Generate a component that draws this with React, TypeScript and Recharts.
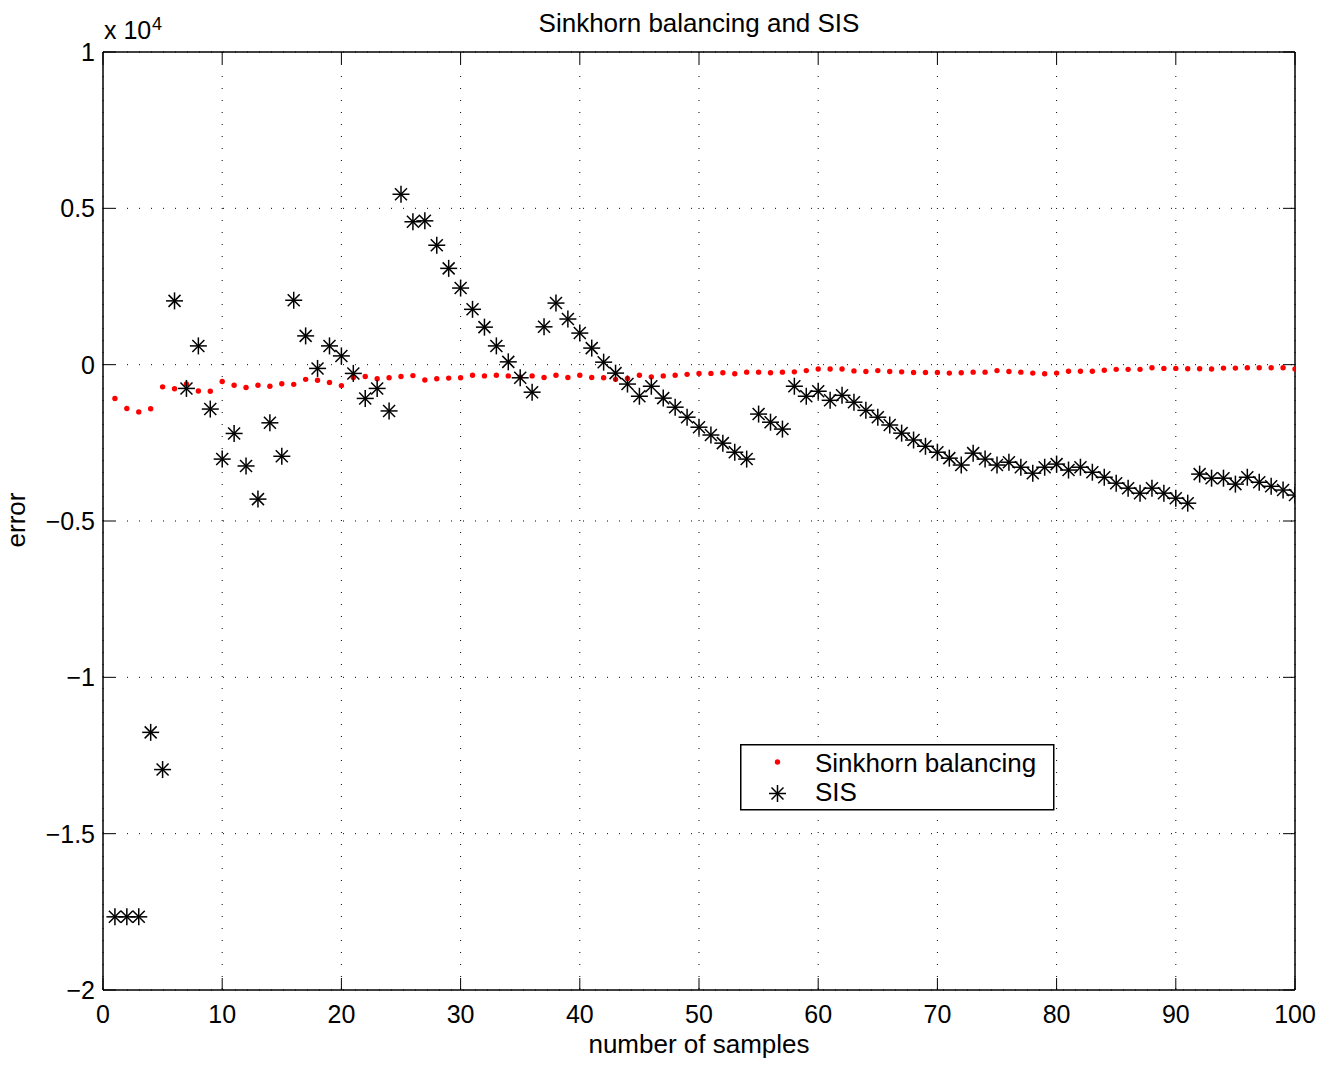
import { CartesianGrid, Legend, Scatter, ScatterChart, XAxis, YAxis } from "recharts";

const FONT = '"Liberation Sans", Arial, Helvetica, sans-serif';

// number of samples (x)
const samples = Array.from({ length: 100 }, (_, i) => i + 1);

// error values
const sinkhornErr = [
  -1080, -1400, -1510, -1410, -710, -770, -620, -840, -850, -540,
  -660, -730, -660, -690, -610, -630, -470, -500, -570, -670,
  -410, -380, -450, -420, -380, -350, -490, -450, -430, -420,
  -340, -360, -340, -360, -390, -360, -410, -340, -410, -340,
  -410, -420, -470, -440, -340, -390, -360, -340, -310, -280,
  -280, -260, -290, -240, -240, -260, -240, -230, -190, -140,
  -140, -140, -200, -220, -190, -220, -230, -250, -250, -250,
  -270, -260, -240, -240, -190, -220, -240, -270, -290, -270,
  -210, -210, -210, -180, -150, -150, -150, -100, -120, -120,
  -130, -130, -140, -110, -110, -100, -100, -100, -100, -140,
];

const sisErr = [
  -17660, -17660, -17660, -11760, -12950, 2040, -760, 600, -1420, -3020,
  -2200, -3240, -4300, -1860, -2930, 2060, 920, -120, 600, 280,
  -280, -1080, -760, -1480, 5450, 4570, 4600, 3820, 3080, 2450,
  1770, 1200, 600, 90, -420, -880, 1210, 1970, 1460, 1010,
  530, 80, -270, -620, -1010, -690, -1070, -1360, -1680, -2000,
  -2250, -2510, -2800, -3020, -1580, -1840, -2060, -690, -1010, -850,
  -1140, -980, -1200, -1460, -1680, -1930, -2190, -2410, -2610, -2800,
  -2990, -3210, -2830, -3020, -3210, -3120, -3280, -3470, -3280, -3180,
  -3370, -3280, -3440, -3600, -3790, -3950, -4110, -3950, -4110, -4270,
  -4430, -3500, -3630, -3630, -3820, -3600, -3760, -3890, -4010, -4170,
];

const xTicks = [0, 10, 20, 30, 40, 50, 60, 70, 80, 90, 100];
const yTicks = [-20000, -15000, -10000, -5000, 0, 5000, 10000];

const sinkhornData = samples.map((x, i) => ({ x, y: sinkhornErr[i] }));
const sisData = samples.map((x, i) => ({ x, y: sisErr[i] }));

const fmtY = (v: number) => {
  const s = String(Math.abs(v) / 10000);
  return v < 0 ? "\u2212" + s : s;
};

const RedDot = (props: any) => <circle cx={props.cx} cy={props.cy} r={2.7} fill="#ff0000" />;

const Star = (props: any) => {
  const { cx, cy } = props;
  return (
    <g stroke="#000" strokeWidth={1.5}>
      <line x1={cx - 8.5} y1={cy} x2={cx + 8.5} y2={cy} />
      <line x1={cx} y1={cy - 8.5} x2={cx} y2={cy + 8.5} />
      <line x1={cx - 6} y1={cy - 6} x2={cx + 6} y2={cy + 6} />
      <line x1={cx - 6} y1={cy + 6} x2={cx + 6} y2={cy - 6} />
    </g>
  );
};

const LegendBox = () => (
  <svg width={315} height={67} style={{ display: "block", fontFamily: FONT }}>
    <rect x={0.75} y={0.75} width={313} height={65} fill="#fff" stroke="#000" strokeWidth={1.5} />
    <RedDot cx={37.5} cy={18} />
    <text x={75} y={27.5} fontSize={26} fill="#000">Sinkhorn balancing</text>
    <Star cx={37.5} cy={49.5} />
    <text x={75} y={57} fontSize={26} fill="#000">SIS</text>
  </svg>
);

const tickStyle = { fill: "#000", fontSize: 25, fontFamily: FONT };
const frame = { stroke: "#000", strokeWidth: 1.5 };
const tickLn = { stroke: "#000", strokeWidth: 1 };

export default function App() {
  return (
    <div style={{ position: "absolute", left: 0, top: 0, width: 1333, height: 1066, background: "#fff" }}>
      <ScatterChart width={1333} height={1066} margin={{ top: 51, right: 37, left: 0, bottom: 0 }}>
        <CartesianGrid xAxisId="b" yAxisId="l" stroke="#000" strokeWidth={1} strokeDasharray="1 11" />
        <XAxis
          xAxisId="b" dataKey="x" type="number" domain={[0, 100]} ticks={xTicks} allowDataOverflow
          orientation="bottom" height={76} tickSize={-12} tickMargin={27}
          axisLine={frame} tickLine={tickLn} tick={tickStyle}
        />
        <XAxis
          xAxisId="t" dataKey="x" type="number" domain={[0, 100]} ticks={xTicks} allowDataOverflow
          orientation="top" height={1} tickSize={-12} tickFormatter={() => ""}
          axisLine={frame} tickLine={tickLn}
        />
        <YAxis
          yAxisId="l" dataKey="y" type="number" domain={[-20000, 10000]} ticks={yTicks} allowDataOverflow
          orientation="left" width={103} tickSize={-12} tickMargin={20} tickFormatter={fmtY}
          axisLine={frame} tickLine={tickLn} tick={tickStyle}
        />
        <YAxis
          yAxisId="r" dataKey="y" type="number" domain={[-20000, 10000]} ticks={yTicks} allowDataOverflow
          orientation="right" width={1} tickSize={-12} tickFormatter={() => ""}
          axisLine={frame} tickLine={tickLn}
        />
        <Scatter xAxisId="t" yAxisId="r" data={sinkhornData} shape={() => null} legendType="none" isAnimationActive={false} />
        <Scatter xAxisId="b" yAxisId="l" name="Sinkhorn balancing" data={sinkhornData} shape={RedDot} isAnimationActive={false} />
        <Scatter xAxisId="b" yAxisId="l" name="SIS" data={sisData} shape={Star} isAnimationActive={false} />
        <Legend
          layout="horizontal" verticalAlign="middle" align="center" content={LegendBox}
          wrapperStyle={{ left: 740, top: 744, width: 315, height: 67 }}
        />
      </ScatterChart>
      <svg width={1333} height={1066} style={{ position: "absolute", left: 0, top: 0, pointerEvents: "none", fontFamily: FONT }}>
        <text x={699} y={31.5} fontSize={26} textAnchor="middle" fill="#000">Sinkhorn balancing and SIS</text>
        <text x={699} y={1053} fontSize={26} textAnchor="middle" fill="#000">number of samples</text>
        <text x={25} y={520} fontSize={26} textAnchor="middle" fill="#000" transform="rotate(-90 25 520)">error</text>
        <text x={104} y={38.5} fontSize={25} fill="#000">x 10</text>
        <text x={152} y={30} fontSize={18} fill="#000">4</text>
      </svg>
    </div>
  );
}
